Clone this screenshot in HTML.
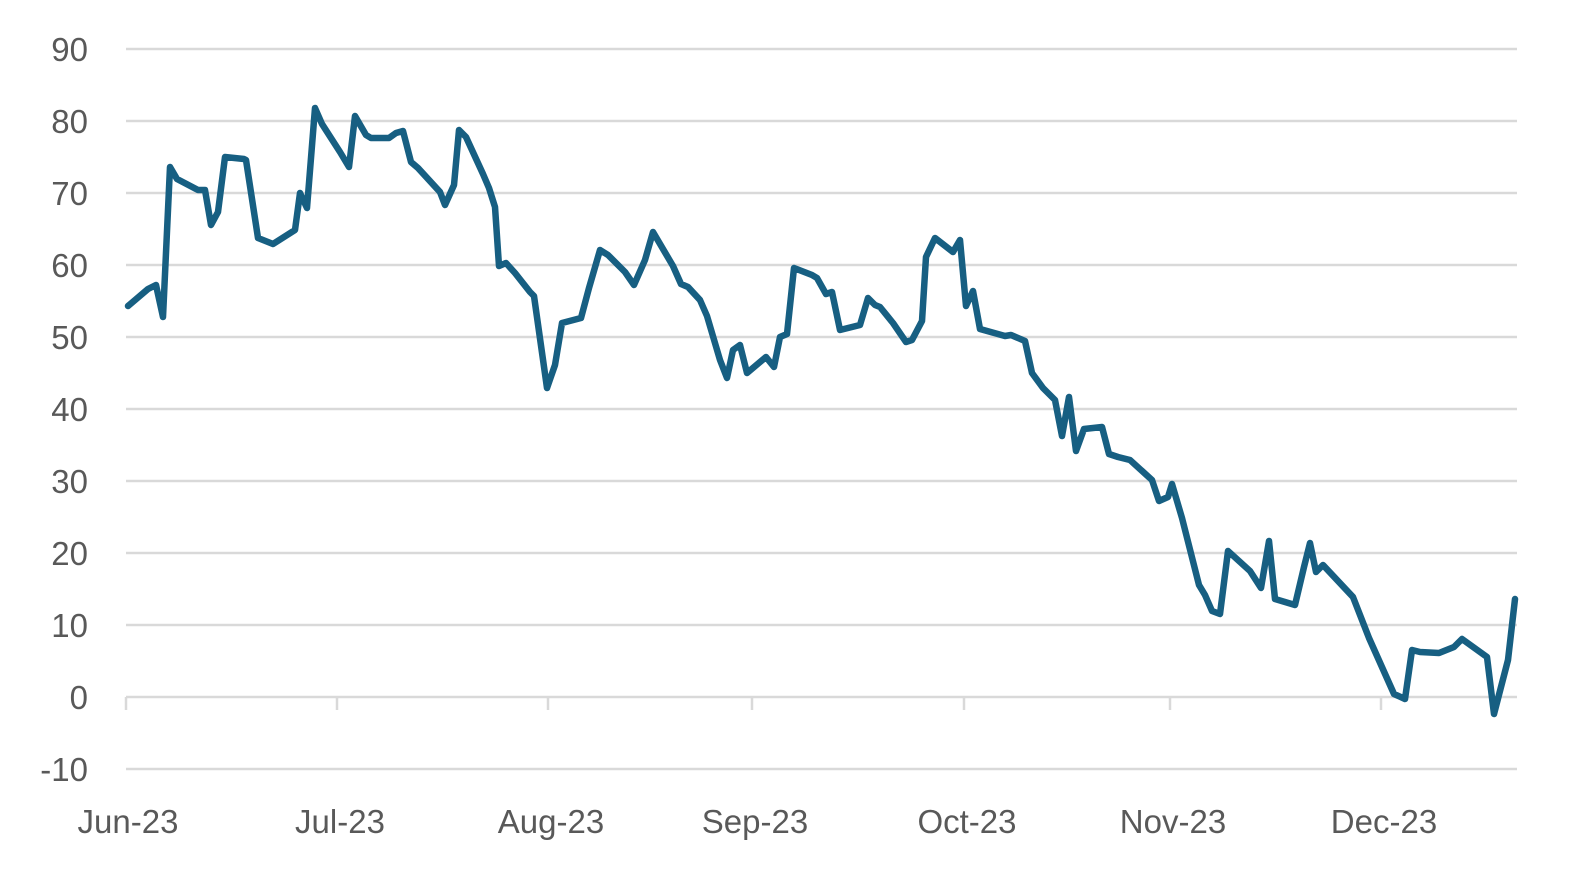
<!DOCTYPE html>
<html><head><meta charset="utf-8"><style>html,body{margin:0;padding:0;background:#fff}svg{display:block}</style></head>
<body>
<svg width="1578" height="880" viewBox="0 0 1578 880" xmlns="http://www.w3.org/2000/svg" font-family="Liberation Sans, sans-serif" fill="#595959">
<g stroke="#d9d9d9" stroke-width="2.5">
<line x1="126" x2="1517" y1="49" y2="49"/><line x1="126" x2="1517" y1="121" y2="121"/><line x1="126" x2="1517" y1="193" y2="193"/><line x1="126" x2="1517" y1="265" y2="265"/><line x1="126" x2="1517" y1="337" y2="337"/><line x1="126" x2="1517" y1="409" y2="409"/><line x1="126" x2="1517" y1="481" y2="481"/><line x1="126" x2="1517" y1="553" y2="553"/><line x1="126" x2="1517" y1="625" y2="625"/><line x1="126" x2="1517" y1="697" y2="697"/><line x1="126" x2="1517" y1="769" y2="769"/>
<line x1="126" x2="126" y1="697" y2="710"/><line x1="337" x2="337" y1="697" y2="710"/><line x1="548" x2="548" y1="697" y2="710"/><line x1="752" x2="752" y1="697" y2="710"/><line x1="964" x2="964" y1="697" y2="710"/><line x1="1170" x2="1170" y1="697" y2="710"/><line x1="1381" x2="1381" y1="697" y2="710"/>
</g>
<g font-size="33" text-anchor="end">
<text x="88" y="61">90</text><text x="88" y="133">80</text><text x="88" y="205">70</text><text x="88" y="277">60</text><text x="88" y="349">50</text><text x="88" y="421">40</text><text x="88" y="493">30</text><text x="88" y="565">20</text><text x="88" y="637">10</text><text x="88" y="709">0</text><text x="88" y="781">-10</text>
</g>
<g font-size="33" text-anchor="middle">
<text x="128" y="833">Jun-23</text><text x="340" y="833">Jul-23</text><text x="551" y="833">Aug-23</text><text x="755" y="833">Sep-23</text><text x="967" y="833">Oct-23</text><text x="1173" y="833">Nov-23</text><text x="1384" y="833">Dec-23</text>
</g>
<polyline fill="none" stroke="#175f82" stroke-width="6.5" stroke-linejoin="round" stroke-linecap="round" points="
128,306 148,289 156,285 163,317 170,167 177,179 198,190 205,190 211,225 218,212 225,157 244,159 246,160 258,238 273,244 295,230 300,193 307,208 315,108 322,124 340,152 349,167 355,116 366,135 371,138 389,138 396,133 403,131 411,162 418,168 440,192 445,205 454,185 459,130 466,137 483,174 489,188 495,207 499,266 506,263 515,273 530,292 534,296 547,388 555,365 562,323 581,318 589,288 600,250 608,255 625,272 634,285 645,260 653,232 673,266 681,284 688,287 700,300 707,316 720,360 727,378 733,350 740,345 747,373 766,357 774,367 780,337 787,334 794,268 812,275 817,278 826,294 832,292 840,330 860,325 868,298 875,305 880,307 893,323 906,342 912,340 922,321 926,257 935,238 953,252 960,240 966,306 973,291 980,329 1005,336 1011,335 1025,341 1032,373 1043,388
1055,400 1062,436 1069,397 1076,451 1084,429 1102,427 1109,454 1118,457 1130,460 1152,480 1159,501 1168,497 1172,484 1182,518 1199,585 1205,595 1212,611 1220,614 1228,551 1250,571 1261,588 1269,541 1275,599 1295,605 1304,567 1310,543 1316,572 1323,565 1353,597 1369,638 1394,694 1405,699 1412,650 1420,652 1439,653 1454,647 1462,639 1487,657 1494,714 1508,660 1515,599"/>
</svg>
</body></html>
